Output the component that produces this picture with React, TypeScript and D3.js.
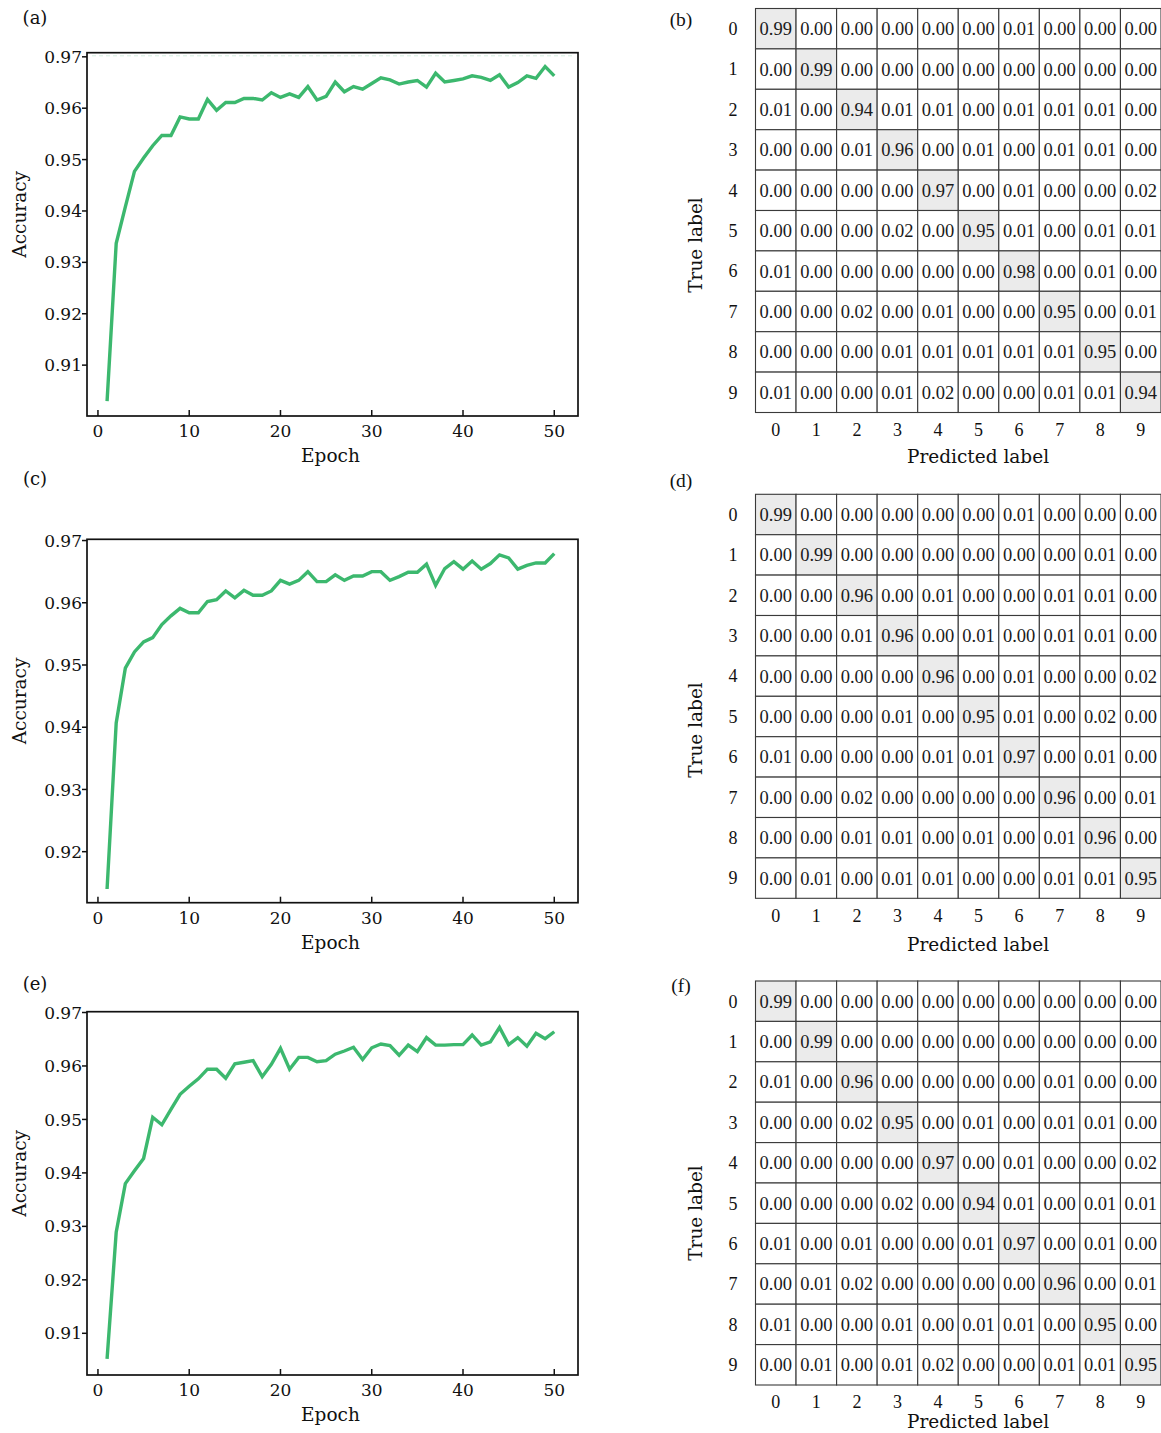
import React from 'react';
import * as d3 from 'd3';

// epochs 1..50 (x positions of the accuracy curves)
const epochs = d3.range(1, 51);

const accA = [
  0.9030, 0.9337, 0.9408, 0.9477, 0.9503, 0.9527, 0.9547, 0.9547, 0.9583, 0.9579,
  0.9579, 0.9617, 0.9596, 0.9611, 0.9611, 0.9619, 0.9619, 0.9616, 0.9630, 0.9621,
  0.9628, 0.9621, 0.9642, 0.9616, 0.9623, 0.9651, 0.9632, 0.9642, 0.9637, 0.9648,
  0.9659, 0.9655, 0.9647, 0.9651, 0.9654, 0.9641, 0.9668, 0.9651, 0.9654, 0.9657,
  0.9663, 0.9660, 0.9654, 0.9665, 0.9641, 0.9650, 0.9663, 0.9658, 0.9681, 0.9663,
];

const accC = [
  0.9140, 0.9407, 0.9495, 0.9521, 0.9537, 0.9544, 0.9565, 0.9579, 0.9591, 0.9584,
  0.9584, 0.9602, 0.9605, 0.9619, 0.9608, 0.9620, 0.9612, 0.9612, 0.9619, 0.9636,
  0.9630, 0.9636, 0.9650, 0.9634, 0.9634, 0.9645, 0.9636, 0.9643, 0.9643, 0.9650,
  0.9650, 0.9636, 0.9642, 0.9649, 0.9649, 0.9662, 0.9628, 0.9655, 0.9666, 0.9654,
  0.9667, 0.9654, 0.9663, 0.9677, 0.9672, 0.9654, 0.9660, 0.9664, 0.9664, 0.9679,
];

const accE = [
  0.9052, 0.9289, 0.9380, 0.9404, 0.9427, 0.9504, 0.9490, 0.9519, 0.9547, 0.9562,
  0.9576, 0.9594, 0.9594, 0.9577, 0.9604, 0.9607, 0.9610, 0.9580, 0.9603, 0.9633,
  0.9594, 0.9616, 0.9616, 0.9608, 0.9610, 0.9622, 0.9628, 0.9635, 0.9612, 0.9634,
  0.9641, 0.9638, 0.9620, 0.9639, 0.9627, 0.9653, 0.9639, 0.9639, 0.9640, 0.9640,
  0.9658, 0.9639, 0.9645, 0.9672, 0.9640, 0.9653, 0.9637, 0.9661, 0.9651, 0.9664,
];

const classes = ['0', '1', '2', '3', '4', '5', '6', '7', '8', '9'];

const matrixB = [
  [0.99, 0.00, 0.00, 0.00, 0.00, 0.00, 0.01, 0.00, 0.00, 0.00],
  [0.00, 0.99, 0.00, 0.00, 0.00, 0.00, 0.00, 0.00, 0.00, 0.00],
  [0.01, 0.00, 0.94, 0.01, 0.01, 0.00, 0.01, 0.01, 0.01, 0.00],
  [0.00, 0.00, 0.01, 0.96, 0.00, 0.01, 0.00, 0.01, 0.01, 0.00],
  [0.00, 0.00, 0.00, 0.00, 0.97, 0.00, 0.01, 0.00, 0.00, 0.02],
  [0.00, 0.00, 0.00, 0.02, 0.00, 0.95, 0.01, 0.00, 0.01, 0.01],
  [0.01, 0.00, 0.00, 0.00, 0.00, 0.00, 0.98, 0.00, 0.01, 0.00],
  [0.00, 0.00, 0.02, 0.00, 0.01, 0.00, 0.00, 0.95, 0.00, 0.01],
  [0.00, 0.00, 0.00, 0.01, 0.01, 0.01, 0.01, 0.01, 0.95, 0.00],
  [0.01, 0.00, 0.00, 0.01, 0.02, 0.00, 0.00, 0.01, 0.01, 0.94],
];

const matrixD = [
  [0.99, 0.00, 0.00, 0.00, 0.00, 0.00, 0.01, 0.00, 0.00, 0.00],
  [0.00, 0.99, 0.00, 0.00, 0.00, 0.00, 0.00, 0.00, 0.01, 0.00],
  [0.00, 0.00, 0.96, 0.00, 0.01, 0.00, 0.00, 0.01, 0.01, 0.00],
  [0.00, 0.00, 0.01, 0.96, 0.00, 0.01, 0.00, 0.01, 0.01, 0.00],
  [0.00, 0.00, 0.00, 0.00, 0.96, 0.00, 0.01, 0.00, 0.00, 0.02],
  [0.00, 0.00, 0.00, 0.01, 0.00, 0.95, 0.01, 0.00, 0.02, 0.00],
  [0.01, 0.00, 0.00, 0.00, 0.01, 0.01, 0.97, 0.00, 0.01, 0.00],
  [0.00, 0.00, 0.02, 0.00, 0.00, 0.00, 0.00, 0.96, 0.00, 0.01],
  [0.00, 0.00, 0.01, 0.01, 0.00, 0.01, 0.00, 0.01, 0.96, 0.00],
  [0.00, 0.01, 0.00, 0.01, 0.01, 0.00, 0.00, 0.01, 0.01, 0.95],
];

const matrixF = [
  [0.99, 0.00, 0.00, 0.00, 0.00, 0.00, 0.00, 0.00, 0.00, 0.00],
  [0.00, 0.99, 0.00, 0.00, 0.00, 0.00, 0.00, 0.00, 0.00, 0.00],
  [0.01, 0.00, 0.96, 0.00, 0.00, 0.00, 0.00, 0.01, 0.00, 0.00],
  [0.00, 0.00, 0.02, 0.95, 0.00, 0.01, 0.00, 0.01, 0.01, 0.00],
  [0.00, 0.00, 0.00, 0.00, 0.97, 0.00, 0.01, 0.00, 0.00, 0.02],
  [0.00, 0.00, 0.00, 0.02, 0.00, 0.94, 0.01, 0.00, 0.01, 0.01],
  [0.01, 0.00, 0.01, 0.00, 0.00, 0.01, 0.97, 0.00, 0.01, 0.00],
  [0.00, 0.01, 0.02, 0.00, 0.00, 0.00, 0.00, 0.96, 0.00, 0.01],
  [0.01, 0.00, 0.00, 0.01, 0.00, 0.01, 0.01, 0.00, 0.95, 0.00],
  [0.00, 0.01, 0.00, 0.01, 0.02, 0.00, 0.00, 0.01, 0.01, 0.95],
];

const SCHOOL = '"DejaVu Serif", serif';
const TIMES = '"Liberation Serif", "Times New Roman", serif';
const GREEN = '#3cb86e';

const fmt2 = d3.format('.2f');

function AccuracyPanel({ values, tag, tagY, left, top, right, bottom, yDomain, guide }) {
  const x = d3.scaleLinear().domain([-1.2, 52.6]).range([left, right]);
  const y = d3.scaleLinear().domain(yDomain).range([bottom, top]);
  const line = d3.line<number>()
    .x((_, i) => x(epochs[i]))
    .y(d => y(d));
  const midX = (left + right) / 2 - 2;
  const midY = (top + bottom) / 2 - 20;

  return (
    <g>
      <text x={35} y={tagY} dy="0.35em" textAnchor="middle"
        fontFamily={SCHOOL} fontSize={18} fill="#111">{tag}</text>
      {guide && (
        <line x1={left + 5} x2={right - 5} y1={y(0.97) - 1} y2={y(0.97) - 1}
          stroke="#d4eee0" strokeWidth={1} strokeDasharray="4,3" />
      )}
      <path d={line(values) || ''} fill="none" stroke={GREEN} strokeWidth={3.4}
        strokeLinejoin="miter" strokeLinecap="butt" />
      <rect x={left} y={top} width={right - left} height={bottom - top}
        fill="none" stroke="#111" strokeWidth={1.7} />
      {y.ticks(7).map(t => (
        <g key={'y' + t}>
          <line x1={left - 5} x2={left} y1={y(t)} y2={y(t)} stroke="#111" strokeWidth={1.5} />
          <text x={left - 5} y={y(t)} dy="0.36em" textAnchor="end"
            fontFamily={SCHOOL} fontSize={17} fill="#111">{fmt2(t)}</text>
        </g>
      ))}
      {x.ticks(6).map(t => (
        <g key={'x' + t}>
          <line x1={x(t)} x2={x(t)} y1={bottom} y2={bottom - 6} stroke="#111" strokeWidth={1.5} />
          <text x={x(t)} y={bottom + 15} dy="0.36em" textAnchor="middle"
            fontFamily={SCHOOL} fontSize={17} fill="#111">{t}</text>
        </g>
      ))}
      <text x={midX} y={bottom + 40} dy="0.35em" textAnchor="middle"
        fontFamily={SCHOOL} fontSize={18.5} fill="#111">Epoch</text>
      <text transform={`translate(20,${midY}) rotate(-90)`} dy="0.35em" textAnchor="middle"
        fontFamily={SCHOOL} fontSize={18.5} fill="#111">Accuracy</text>
    </g>
  );
}

function ConfusionPanel({ matrix, tag, top, tagY, colLabelY, predY, trueY }) {
  const left = 755.5;
  const cols = d3.scaleBand<string>().domain(classes).range([left, left + 405.5]);
  const rows = d3.scaleBand<string>().domain(classes).range([top, top + 404]);
  const cw = cols.bandwidth();
  const rh = rows.bandwidth();

  return (
    <g>
      <text x={681} y={tagY} dy="0.35em" textAnchor="middle"
        fontFamily={TIMES} fontSize={19.5} fill="#111">{tag}</text>
      {matrix.map((row, i) => row.map((v, j) => (
        <g key={i + '-' + j}>
          <rect x={cols(classes[j])} y={rows(classes[i])} width={cw} height={rh}
            fill={i === j ? '#ebebeb' : '#fff'} stroke="#3a3a3a" strokeWidth={1.1} />
          <text x={cols(classes[j])! + cw / 2} y={rows(classes[i])! + rh / 2} dy="0.35em"
            textAnchor="middle" fontFamily={TIMES} fontSize={18.5} fill="#1a1a1a">{fmt2(v)}</text>
        </g>
      )))}
      {classes.map(c => (
        <text key={'r' + c} x={733} y={rows(c)! + rh / 2} dy="0.35em" textAnchor="middle"
          fontFamily={TIMES} fontSize={18} fill="#111">{c}</text>
      ))}
      {classes.map(c => (
        <text key={'c' + c} x={cols(c)! + cw / 2} y={colLabelY} dy="0.35em" textAnchor="middle"
          fontFamily={TIMES} fontSize={18} fill="#111">{c}</text>
      ))}
      <text x={978} y={predY} dy="0.35em" textAnchor="middle"
        fontFamily={SCHOOL} fontSize={18.5} fill="#111">Predicted label</text>
      <text transform={`translate(696,${trueY}) rotate(-90)`} dy="0.35em" textAnchor="middle"
        fontFamily={SCHOOL} fontSize={18.5} fill="#111">True label</text>
    </g>
  );
}

export default function App() {
  return (
    <svg width={1161} height={1433} style={{ position: 'absolute', left: 0, top: 0, background: '#fff' }}>
      <AccuracyPanel values={accA} tag="(a)" tagY={18} left={87} top={52.7} right={578} bottom={416}
        yDomain={[0.9001, 0.9708]} guide />
      <AccuracyPanel values={accC} tag="(c)" tagY={479} left={87} top={539.3} right={578} bottom={902.7}
        yDomain={[0.9118, 0.9702]} guide={false} />
      <AccuracyPanel values={accE} tag="(e)" tagY={984} left={87} top={1011.7} right={578} bottom={1375}
        yDomain={[0.9022, 0.97015]} guide={false} />

      <ConfusionPanel matrix={matrixB} tag="(b)" top={8.5} tagY={19}
        colLabelY={430} predY={456.5} trueY={245} />
      <ConfusionPanel matrix={matrixD} tag="(d)" top={494.3} tagY={480}
        colLabelY={916} predY={945} trueY={730} />
      <ConfusionPanel matrix={matrixF} tag="(f)" top={981} tagY={985}
        colLabelY={1401.5} predY={1421.5} trueY={1213} />
    </svg>
  );
}
